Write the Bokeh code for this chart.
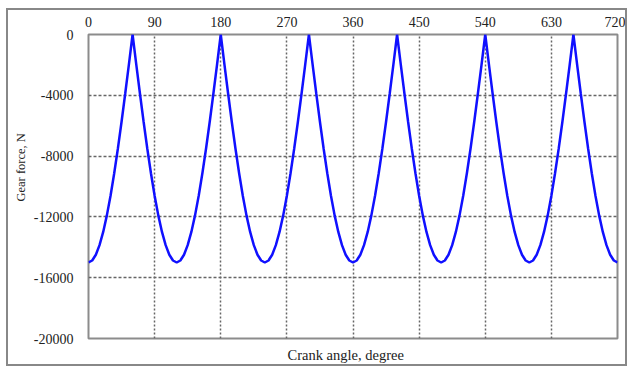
from bokeh.plotting import figure
from bokeh.models import FixedTicker, Range1d, Title
from bokeh.embed import file_html
from bokeh.resources import INLINE

# Crank angle, degree (every 5 degrees)
angle = list(range(0, 725, 5))

# Gear force, N
force = [
    -15000, -14870, -14490, -13860, -12990, -11900, -10610, -9130, -7500, -5740, -3880, -1960, 0,
    -1960, -3880, -5740, -7500, -9130, -10610, -11900, -12990, -13860, -14490, -14870,
    -15000, -14870, -14490, -13860, -12990, -11900, -10610, -9130, -7500, -5740, -3880, -1960, 0,
    -1960, -3880, -5740, -7500, -9130, -10610, -11900, -12990, -13860, -14490, -14870,
    -15000, -14870, -14490, -13860, -12990, -11900, -10610, -9130, -7500, -5740, -3880, -1960, 0,
    -1960, -3880, -5740, -7500, -9130, -10610, -11900, -12990, -13860, -14490, -14870,
    -15000, -14870, -14490, -13860, -12990, -11900, -10610, -9130, -7500, -5740, -3880, -1960, 0,
    -1960, -3880, -5740, -7500, -9130, -10610, -11900, -12990, -13860, -14490, -14870,
    -15000, -14870, -14490, -13860, -12990, -11900, -10610, -9130, -7500, -5740, -3880, -1960, 0,
    -1960, -3880, -5740, -7500, -9130, -10610, -11900, -12990, -13860, -14490, -14870,
    -15000, -14870, -14490, -13860, -12990, -11900, -10610, -9130, -7500, -5740, -3880, -1960, 0,
    -1960, -3880, -5740, -7500, -9130, -10610, -11900, -12990, -13860, -14490, -14870,
    -15000,
]

x_ticks = [0, 90, 180, 270, 360, 450, 540, 630, 720]
y_ticks = [0, -4000, -8000, -12000, -16000, -20000]

FONT = "Liberation Serif"
GRAY = "#8c8c8c"
TXT = "#222222"

p = figure(
    width=621, height=358,
    x_range=Range1d(0, 720), y_range=Range1d(-20000, 0),
    x_axis_location="above",
    output_backend="svg", toolbar_location=None,
    min_border_left=80, min_border_top=24, min_border_right=12, min_border_bottom=29,
)
p.margin = (8, 0, 0, 6)
p.styles = {"border": "2px solid #888888"}

p.outline_line_color = GRAY
p.outline_line_width = 2

p.line(angle, force, line_color="#1010ff", line_width=2.5)

# top axis
xa = p.xaxis[0]
xa.ticker = FixedTicker(ticks=x_ticks)
xa.axis_line_color = None
xa.major_tick_line_color = None
xa.minor_tick_line_color = None
xa.major_tick_out = 0
xa.major_tick_in = 0
xa.major_label_text_font = FONT
xa.major_label_text_font_size = "14px"
xa.major_label_text_color = TXT
xa.major_label_standoff = 8

# left axis
ya = p.yaxis[0]
ya.ticker = FixedTicker(ticks=y_ticks)
ya.axis_line_color = None
ya.major_tick_line_color = None
ya.minor_tick_line_color = None
ya.major_tick_out = 0
ya.major_tick_in = 0
ya.major_label_text_font = FONT
ya.major_label_text_font_size = "14px"
ya.major_label_text_color = TXT
ya.major_label_overrides = {t: str(t) for t in y_ticks}
ya.major_label_standoff = 15

# axis titles
p.add_layout(Title(text="Gear force, N", align="left", offset=137,
                   text_font=FONT, text_font_style="normal", text_font_size="12.5px",
                   text_color=TXT, standoff=5), "left")
p.add_layout(Title(text="Crank angle, degree", align="left", offset=199,
                   text_font=FONT, text_font_style="normal", text_font_size="14.5px",
                   text_color=TXT, standoff=12), "below")

p.xgrid.ticker = FixedTicker(ticks=x_ticks[1:-1])
p.xgrid.grid_line_color = "#666666"
p.xgrid.grid_line_dash = "2 2"
p.xgrid.grid_line_width = 1.5
p.ygrid.ticker = FixedTicker(ticks=y_ticks[1:-1])
p.ygrid.grid_line_color = "#666666"
p.ygrid.grid_line_dash = "3 2"
p.ygrid.grid_line_width = 1.5

open("out.html", "w").write(file_html(p, INLINE))
